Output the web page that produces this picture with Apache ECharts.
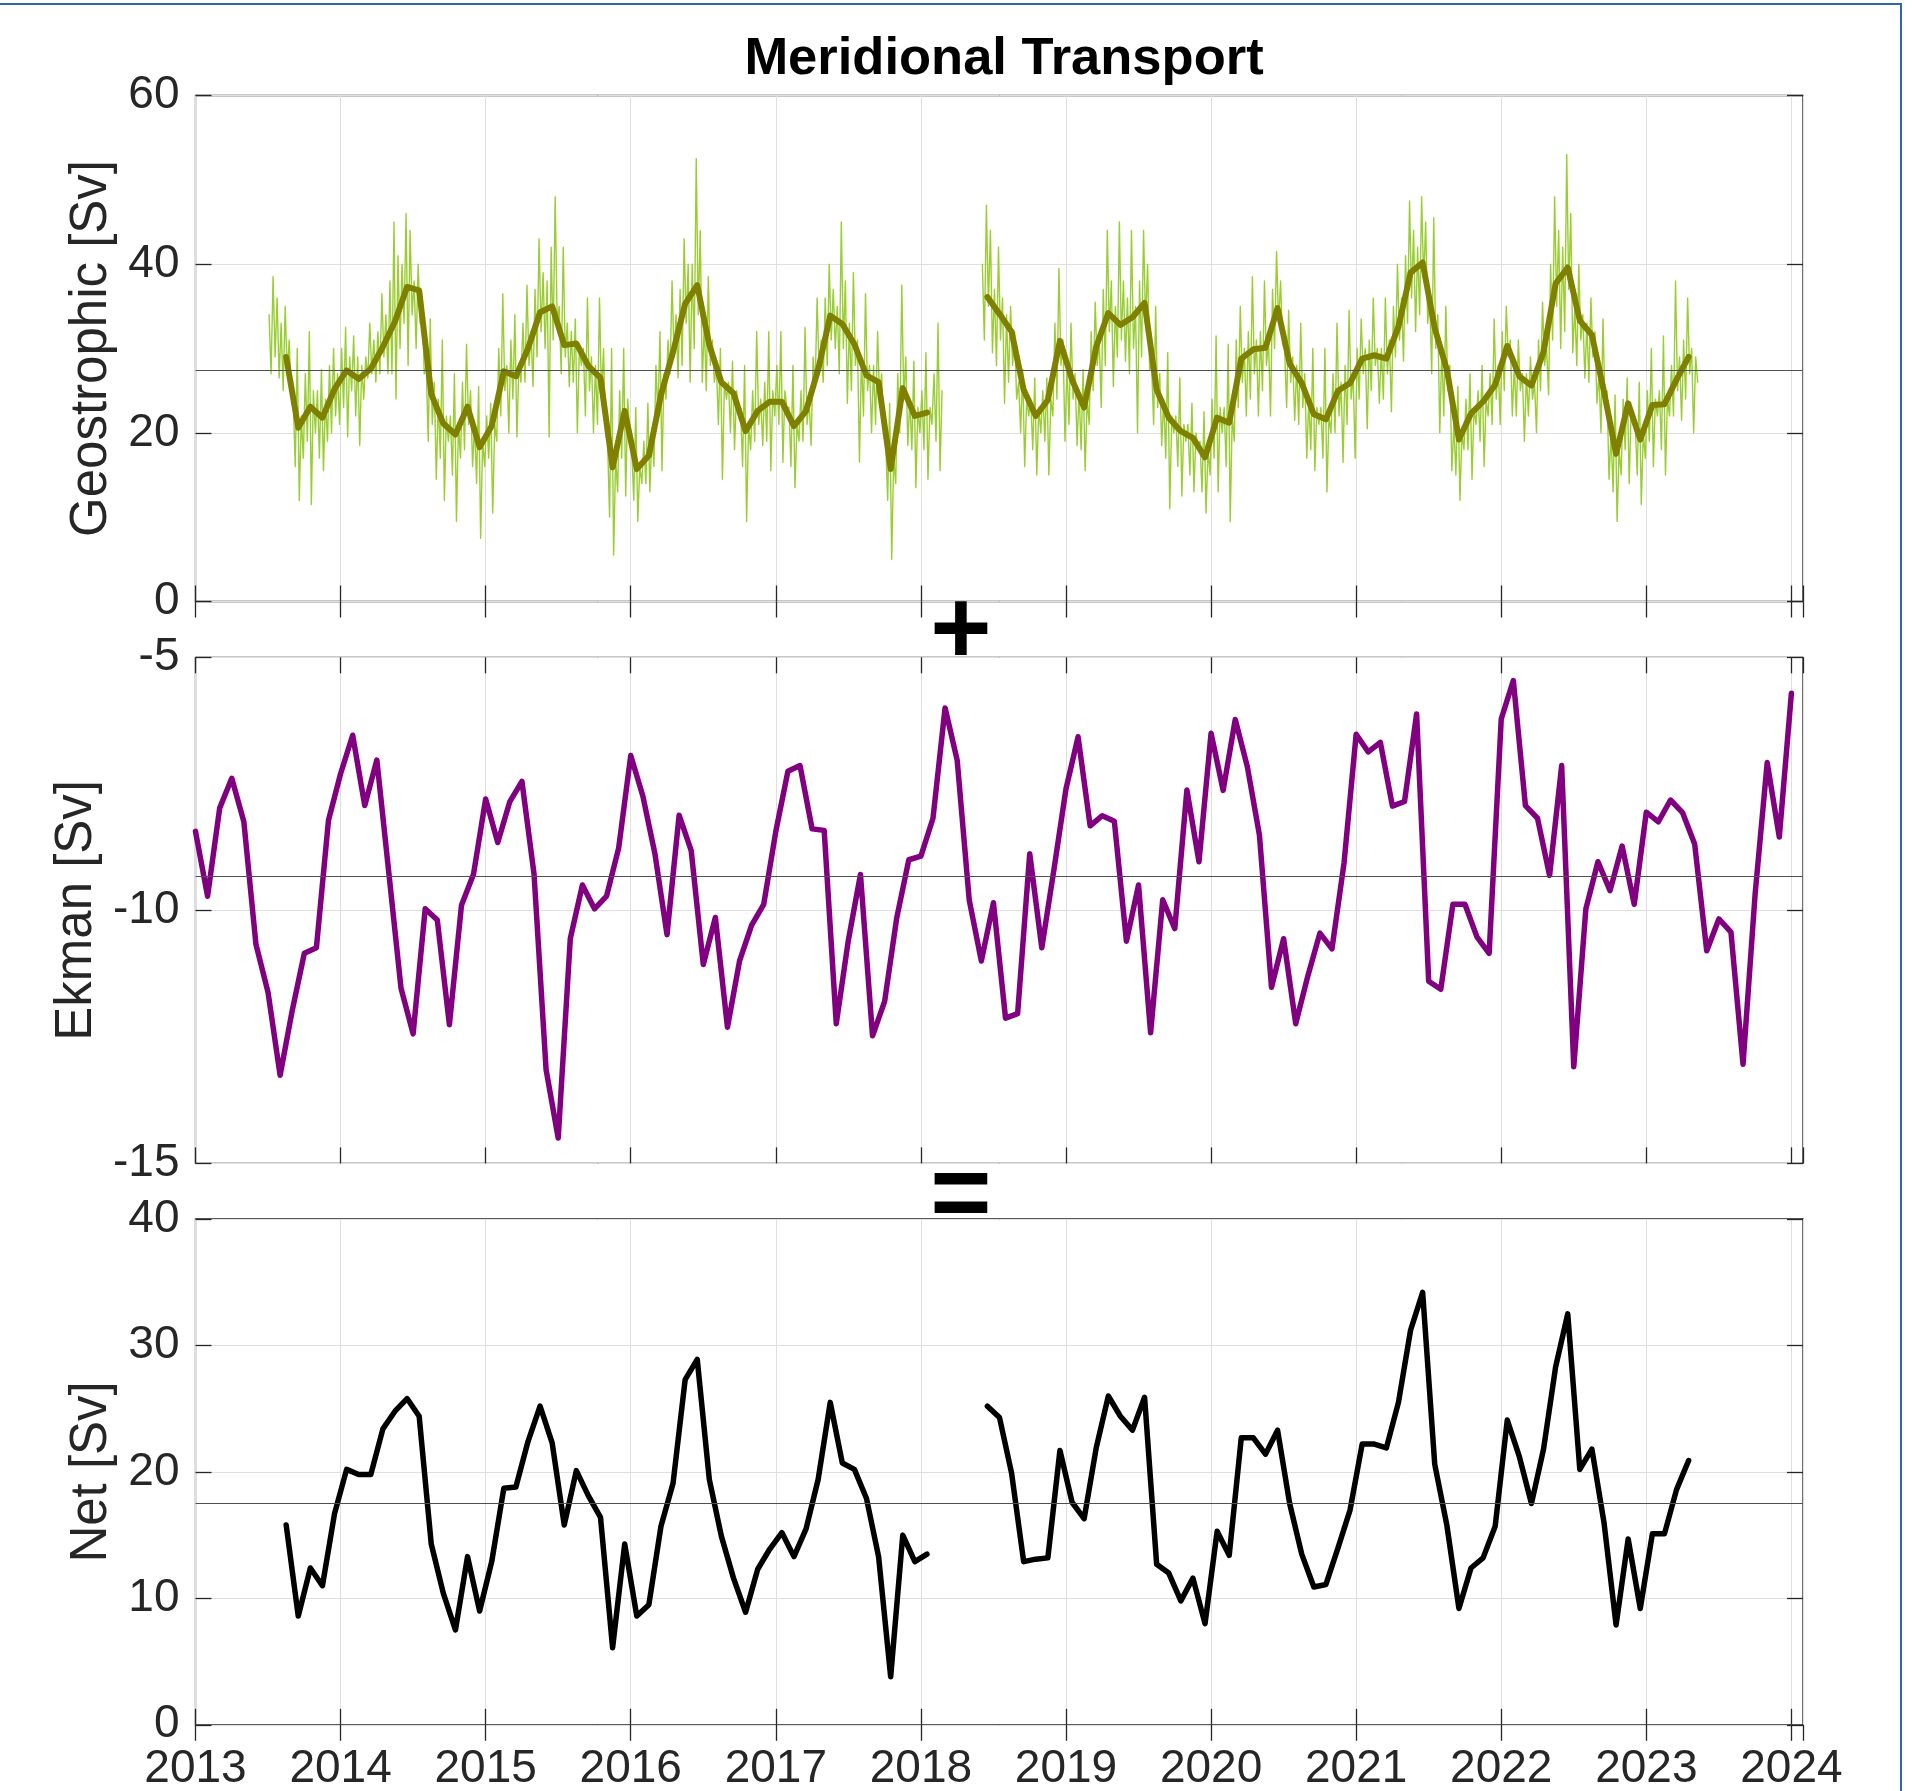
<!DOCTYPE html>
<html>
<head>
<meta charset="utf-8">
<script src="https://cdn.jsdelivr.net/npm/echarts@6/dist/echarts.min.js"></script>
<style>
html,body{margin:0;padding:0;background:#ffffff;}
#chart{width:1915px;height:1791px;}
</style>
</head>
<body>
<div id="chart"></div>
<script>
// ---------------- DATA ----------------
const titleText = 'Meridional Transport';
const yearTicks = [2013,2014,2015,2016,2017,2018,2019,2020,2021,2022,2023,2024];
const xRange = [2013, 2024.08];
const geoRange = [0, 60, 20];
const ekmanRange = [-15, -5, 5];
const netRange = [0, 40, 10];
const axisNames = ['Geostrophic [Sv]', 'Ekman [Sv]', 'Net [Sv]'];
const meanValues = [27.4, -9.33, 17.5];

// monthly geostrophic, Aug 2013 - Jan 2018 (mid-month)
const geoMonthlyA = [29.0,20.6,23.1,21.8,25.2,
  27.4,26.4,27.6,30.2,33.2,37.3,36.9,24.6,21.1,19.8,23.1,18.3,
  20.8,27.3,26.7,30.0,34.3,35.0,30.4,30.6,27.9,26.5,15.9,22.6,
  15.7,17.3,24.5,29.6,35.3,37.5,30.4,26.0,24.7,20.2,22.6,23.7,
  23.7,20.8,22.6,27.5,33.9,32.9,30.5,26.8,26.0,15.7,25.3,22.0,
  22.4];
// monthly geostrophic, Jun 2018 - Apr 2023
const geoMonthlyB = [36.1,34.1,32.0,25.1,22.0,23.9,30.9,
  26.3,23.0,30.2,34.2,32.8,33.7,35.4,25.1,21.8,20.2,19.4,17.1,
  21.8,21.2,28.8,29.9,30.1,34.8,28.2,25.9,22.2,21.6,25.0,25.9,
  28.8,29.2,28.8,32.6,39.0,40.2,32.4,27.5,19.2,22.3,23.7,25.7,
  30.3,26.7,25.6,29.6,37.7,39.6,33.3,31.6,24.9,17.5,23.5,19.2,
  23.3,23.4,26.3,29.0];
// net, same months as geostrophic
const netA = [15.8,8.6,12.4,11.0,16.7,
  20.2,19.8,19.8,23.4,24.8,25.8,24.4,14.3,10.4,7.5,13.3,9.0,
  12.9,18.7,18.8,22.4,25.2,22.3,15.8,20.1,18.1,16.4,6.1,14.3,
  8.6,9.5,15.7,19.1,27.3,28.9,19.4,14.9,11.6,8.9,12.3,13.9,
  15.2,13.3,15.5,19.4,25.5,20.7,20.2,17.9,13.3,3.8,15.0,12.9,
  13.5];
const netB = [25.2,24.3,19.9,12.9,13.1,13.2,21.7,
  17.6,16.3,21.9,26.0,24.4,23.3,25.9,12.7,12.0,9.8,11.6,8.0,
  15.3,13.4,22.7,22.7,21.4,23.3,17.5,13.5,10.9,11.1,14.0,17.0,
  22.2,22.2,21.9,25.5,31.2,34.2,20.6,15.8,9.2,12.4,13.2,15.7,
  24.1,21.2,17.5,21.8,28.3,32.5,20.2,21.8,16.0,7.9,14.7,9.2,
  15.1,15.1,18.6,20.9];
// Ekman, monthly Jan 2013 - Jan 2024 (month start)
const ekman = [-8.44,-9.72,-7.98,-7.39,-8.25,-10.67,-11.62,-13.26,-11.98,-10.85,-10.74,-8.22,
  -7.30,-6.54,-7.93,-7.03,-9.28,-11.54,-12.44,-9.97,-10.19,-12.26,-9.90,-9.28,
  -7.80,-8.66,-7.85,-7.45,-9.28,-13.15,-14.50,-10.56,-9.50,-9.97,-9.72,-8.77,
  -6.94,-7.74,-8.88,-10.48,-8.12,-8.82,-11.07,-10.14,-12.31,-11.00,-10.29,-9.88,
  -8.44,-7.25,-7.14,-8.39,-8.42,-12.24,-10.59,-9.29,-12.48,-11.80,-10.15,-9.00,
  -8.93,-8.18,-6.00,-7.03,-9.80,-11.00,-9.85,-12.13,-12.04,-8.88,-10.74,-9.20,
  -7.60,-6.57,-8.33,-8.13,-8.24,-10.61,-9.50,-12.42,-9.79,-10.36,-7.62,-9.04,
  -6.50,-7.63,-6.23,-7.16,-8.51,-11.52,-10.56,-12.24,-11.30,-10.45,-10.76,-9.06,
  -6.52,-6.87,-6.68,-7.94,-7.85,-6.12,-11.40,-11.56,-9.88,-9.88,-10.53,-10.85,
  -6.22,-5.46,-7.93,-8.18,-9.31,-7.14,-13.09,-9.97,-9.04,-9.61,-8.73,-9.88,
  -8.06,-8.25,-7.82,-8.07,-8.69,-10.80,-10.17,-10.43,-13.04,-9.68,-7.08,-8.55,
  -5.71];
// high-frequency geostrophic, 6 samples per month, Jul 2013 - Feb 2018
const geoDailyA = [
  34,27,38.5,29,36,26.5, 33,25,35,27,31,24.5, 24,16,30,12,22,17, 27,19,32,11.5,25,20, 25,17,27.5,15.5,24,19, 28,20,30,22,27,21,
  30,23,32.5,19.5,29,25, 31.5,22,29,18.5,28,24, 29,26.5,33,27,31,26, 32,27,36.5,29,34,27, 38,27,45,24,41,30, 40,33,46,28,44,34,
  38,30,40,33,36,27, 28,19,33.5,21,26,14.5, 24,17,31,12,22,19, 22,15,27,9.5,21,17, 26,18,30.5,21,25,16, 21,14,25.5,7.5,19,16,
  22,17,23.5,10.5,21,19, 30,22,36.5,25,28,20, 31,24,34,19.5,28,26, 33,26,37.5,28,32,25.5, 37,29,43,32,39,30, 38,19.5,42,31,48,33,
  35,27,42,29,33,25.5, 32,26,33.5,20,30,28, 30,22,36,25,29,20, 28,21,36,24,30,20, 19,10,30,5.5,17,13, 25,17,30,12.5,24,20,
  18,12,23,9.5,16,14, 19,14,23.5,13,20,16, 28,22,32,15.5,27,24, 31,27,38,29,34,26.5, 37,28,43,33,40,26, 40,30,52.5,34,44,26,
  33,25,38.5,28,31,26, 28,21,30,14.5,26,24, 26,20,28.5,18,25,23, 23,16,28,9.5,21,18, 25,19,32,21,24,18.5, 26,19,32,15.5,25,22,
  28,21,32,16.5,25,23, 23,16,28,13.5,21,19, 25,19,32.5,21,24,18.5, 29,25.5,36,27,31,26, 36,28,40,31,37,30, 35,27,45,30,38,23.5,
  33,25,39,28,31,16.5, 29,22,36.5,25,28,20, 28,21,32,24,27,20, 19,12,23.5,5,17,14, 27,20,37.5,24,29,18.5, 24,18,28.5,13.5,23,20,
  25,18,29.5,14.5,23,21, 27,19,33,15.5,25];
// high-frequency geostrophic, 6 samples per month, Jun 2018 - May 2023
const geoDailyB = [
  40,31,47,35,44,29.5, 37,28,42,31,36,23.5, 34,26,35,28,32,24, 26,20,27.5,16,24,22, 24,18,26.5,15,23,20, 25,19,26.5,15,24,22, 33,24,39.5,28,31,19,
  28,21,33,24,27,18.5, 25,18,27.5,15.5,24,21, 32,25,35.5,28,31,23, 37,28,44,32,38,25.5, 35,29,45,31,38,28.5, 36,27,44,30,35,20,
  38,29,44,33,40,27.5, 28,21,35,23,27,18.5, 24,17,29.5,11,22,20, 22,16,26.5,12.5,21,19, 21,15,23.5,13,20,18, 19,13,22.5,10.5,18,15,
  24,17,31.5,13,23,20, 23,16,30.5,9.5,22,19, 31,23,35,26,30,22, 32,24,38.5,27,31,22, 32,25,38,28,31,22, 37,30,41.5,33,38,30.5,
  30,23,34.5,26,29,21.5, 28,21,33,23,27,17, 24,18,30,15.5,23,21, 23,17,30,13,22,20, 27,20,33,22,26,16.5, 28,21,34.5,24,27,17,
  30,24,33.5,27,30,20.5, 31,25,36,28,30,23.5, 30,24,36,27,31,22.5, 35,29,40,31,36,28.5, 41,33,47.5,36,44,32, 42,34,48,38,45,33,
  36,27,45.5,30,34,20, 30,22,35,25,28,15.5, 21,15,25.5,12,20,18, 24,18,27,14.5,23,21, 25,19,28,16,24,22, 27,21,33.5,24,28,21,
  32,25,35,29,31,22, 28,22,31,25,27,19, 27,22,29,24,26,20, 31,25,35.5,28,30,24.5, 40,31,48,35,44,30, 42,32,53,37,46,29.5,
  35,28,40,31,34,26.5, 33,26,36,29,32,23.5, 27,20,33.5,23,25,14.5, 20,13,24.5,9.5,18,15, 24,18,26.5,14,23,21, 21,15,26,11.5,20,17,
  25,19,30,16,24,22, 25,18,31.5,15,24,22, 28,22,38,25,29,21.5, 31,24,36,27,30,20, 29,26];

// ---------------- helpers ----------------
// months counted from Jan 2013; x in fractional years
function toPairs(values, startMonth, perMonth, offset) {
  return values.map((v, i) => [2013 + (startMonth + (i + offset) / perMonth) / 12, v]);
}

const FONT = '"Liberation Sans", Arial, Helvetica, sans-serif';
const TXT = '#262626';
const AX = '#262626';
const GRIDC = '#dfdfdf';
const PLOT_LEFT = 195.5, PLOT_W = 1607.5;
const panels = [
  {top: 95.5, height: 506.0, range: geoRange, nameGap: 69},
  {top: 657.3, height: 506.1, range: ekmanRange, nameGap: 92},
  {top: 1219.0, height: 505.8, range: netRange, nameGap: 72}
];

const grids = panels.map(p => ({
  left: PLOT_LEFT, top: p.top, width: PLOT_W, height: p.height,
  show: true, borderColor: AX, borderWidth: 1.3, backgroundColor: 'transparent',
  containLabel: false, outerBoundsMode: 'none'
}));

const tickStyle = {show: true, inside: true, length: 16, lineStyle: {color: AX, width: 1.3}};
const xAxes = [];
const yAxes = [];
panels.forEach((p, i) => {
  xAxes.push({
    type: 'value', gridIndex: i, position: 'bottom', min: xRange[0], max: xRange[1], interval: 1,
    axisLine: {show: false}, axisTick: tickStyle,
    axisLabel: {show: i === 2, margin: 22, fontSize: 46, color: TXT, fontFamily: FONT,
      showMaxLabel: false,
      formatter: v => (yearTicks.indexOf(Math.round(v)) >= 0 && Math.abs(v - Math.round(v)) < 1e-6) ? String(Math.round(v)) : ''},
    splitLine: {show: true, lineStyle: {color: GRIDC, width: 1}}
  });
  yAxes.push({
    type: 'value', gridIndex: i, position: 'left', min: p.range[0], max: p.range[1], interval: p.range[2],
    axisLine: {show: false}, axisTick: tickStyle,
    axisLabel: {margin: 16, fontSize: 46, color: TXT, fontFamily: FONT},
    splitLine: {show: true, lineStyle: {color: GRIDC, width: 1}},
    name: axisNames[i], nameLocation: 'middle', nameGap: p.nameGap,
    nameTextStyle: {fontSize: 51, color: TXT, fontFamily: FONT}
  });
});
panels.forEach((p, i) => {
  xAxes.push({
    type: 'value', gridIndex: i, position: 'top', min: xRange[0], max: xRange[1], interval: 1,
    axisLine: {show: false}, axisTick: tickStyle, axisLabel: {show: false}, splitLine: {show: false}
  });
  yAxes.push({
    type: 'value', gridIndex: i, position: 'right', min: p.range[0], max: p.range[1], interval: p.range[2],
    axisLine: {show: false}, axisTick: tickStyle, axisLabel: {show: false}, splitLine: {show: false}
  });
});

function meanLine(v) {
  return {silent: true, symbol: ['none', 'none'], label: {show: false},
    lineStyle: {color: '#505050', width: 1.2, type: 'solid'}, emphasis: {disabled: true},
    data: [{yAxis: v}]};
}
function lineSeries(data, xi, color, width, z, extra) {
  return Object.assign({
    type: 'line', xAxisIndex: xi, yAxisIndex: xi, data: data,
    symbol: 'none', showSymbol: false, silent: true, z: z,
    lineStyle: {color: color, width: width, cap: 'round', join: 'round'},
    emphasis: {disabled: true}, animation: false
  }, extra || {});
}

const GREEN = '#9acd32', OLIVE = '#808000', PURPLE = '#800080', BLACK = '#000000';
const series = [
  lineSeries(toPairs(geoDailyA, 6, 6, 0.5), 0, GREEN, 1.4, 2, {markLine: meanLine(meanValues[0])}),
  lineSeries(toPairs(geoDailyB, 65, 6, 0.5), 0, GREEN, 1.4, 2),
  lineSeries(toPairs(geoMonthlyA, 7, 1, 0.5), 0, OLIVE, 6, 4),
  lineSeries(toPairs(geoMonthlyB, 65, 1, 0.5), 0, OLIVE, 6, 4),
  lineSeries(toPairs(ekman, 0, 1, 0), 1, PURPLE, 5.5, 4, {markLine: meanLine(meanValues[1])}),
  lineSeries(toPairs(netA, 7, 1, 0.5), 2, BLACK, 5.5, 4, {markLine: meanLine(meanValues[2])}),
  lineSeries(toPairs(netB, 65, 1, 0.5), 2, BLACK, 5.5, 4)
];

const chart = echarts.init(document.getElementById('chart'), null, {renderer: 'canvas', width: 1915, height: 1791});
chart.setOption({
  backgroundColor: '#ffffff',
  animation: false,
  title: {text: titleText, left: 999, textAlign: 'center', top: 28,
    textStyle: {fontSize: 52.5, fontWeight: 'bold', color: '#000000', fontFamily: FONT}},
  grid: grids,
  xAxis: xAxes,
  yAxis: yAxes,
  series: series,
  graphic: [
    {type: 'text', x: 961, y: 634, style: {text: '+', fontSize: 105, fontWeight: 'bold', fontFamily: FONT,
      fill: '#000', textAlign: 'center', textVerticalAlign: 'middle'}, silent: true, z: 10},
    {type: 'text', x: 961, y: 1199, style: {text: '=', fontSize: 105, fontWeight: 'bold', fontFamily: FONT,
      fill: '#000', textAlign: 'center', textVerticalAlign: 'middle'}, silent: true, z: 10},
    {type: 'rect', shape: {x: 0, y: 3, width: 1902, height: 2}, style: {fill: '#2f66ae'}, silent: true, z: 20},
    {type: 'rect', shape: {x: 1900, y: 3, width: 2, height: 1788}, style: {fill: '#2f66ae'}, silent: true, z: 20}
  ]
});
</script>
</body>
</html>
